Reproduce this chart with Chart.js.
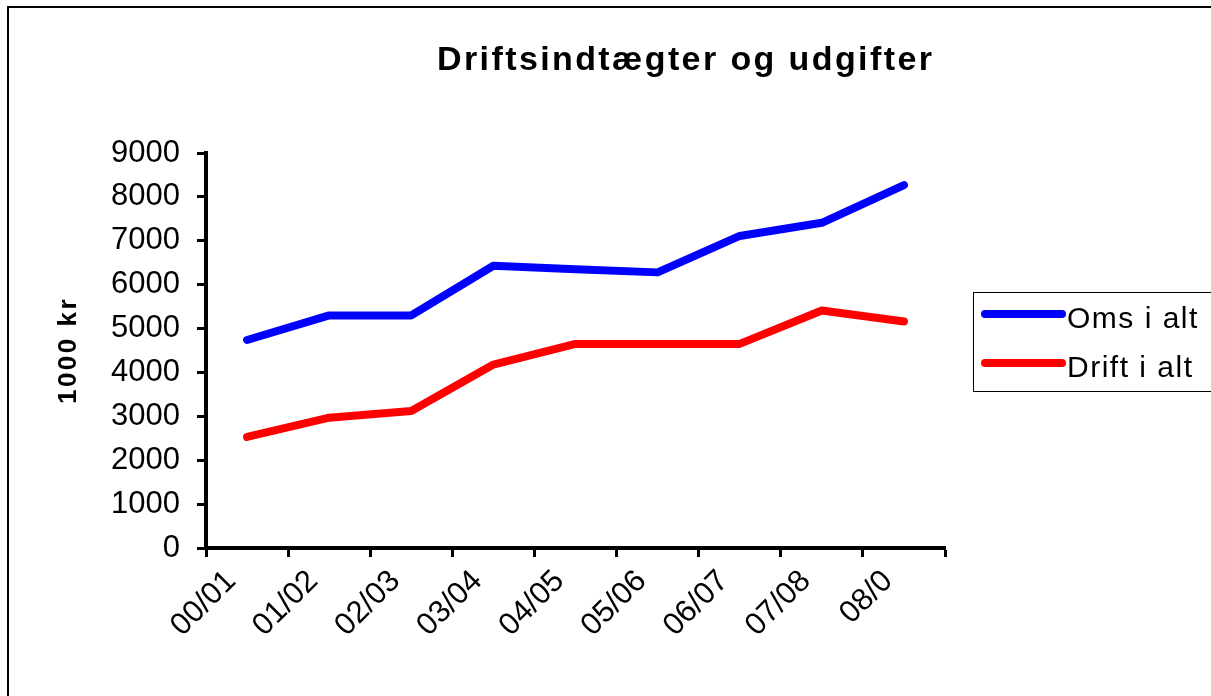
<!DOCTYPE html>
<html>
<head>
<meta charset="utf-8">
<script src="https://cdn.jsdelivr.net/npm/chart.js@4.4.1/dist/chart.umd.min.js"></script>
<style>
  html, body { margin: 0; padding: 0; background: #fff; }
  #wrap { width: 1211px; height: 696px; position: relative; }
</style>
</head>
<body>
<div id="wrap"><canvas id="c" width="1211" height="696"></canvas></div>
<script>
const categories = ["00/01", "01/02", "02/03", "03/04", "04/05", "05/06", "06/07", "07/08", "08/0"];
const omsIAlt   = [4740, 5300, 5300, 6430, 6350, 6280, 7110, 7410, 8270];
const driftIAlt = [2530, 2970, 3120, 4180, 4650, 4650, 4650, 5410, 5160];
const seriesNames = ["Oms i alt", "Drift i alt"];
const seriesColors = ["#0000ff", "#ff0000"];
const yTickStep = 1000;
const yMax = 9000;
const chartTitle = "Driftsindtægter og udgifter";
const yAxisTitle = "1000 kr";

const FONT = "'Liberation Sans', Arial, sans-serif";

const decor = {
  id: 'decor',
  beforeDraw(chart) {
    const ctx = chart.ctx;
    ctx.save();
    ctx.fillStyle = '#fff';
    ctx.fillRect(0, 0, chart.width, chart.height);
    ctx.strokeStyle = '#000';
    ctx.lineWidth = 2;
    ctx.strokeRect(8, 7, 1220, 700);
    ctx.restore();
  },
  afterDraw(chart) {
    const ctx = chart.ctx;
    const area = chart.chartArea;
    ctx.save();
    // title
    ctx.fillStyle = '#000';
    ctx.font = "bold 34px " + FONT;
    ctx.letterSpacing = '2.4px';
    ctx.textAlign = 'left';
    ctx.textBaseline = 'alphabetic';
    ctx.fillText(chartTitle, 437, 70);
    // y axis title
    ctx.save();
    ctx.translate(76, (area.top + area.bottom) / 2);
    ctx.rotate(-Math.PI / 2);
    ctx.font = "bold 26px " + FONT;
    ctx.letterSpacing = '2.5px';
    ctx.textAlign = 'center';
    ctx.textBaseline = 'alphabetic';
    ctx.fillText(yAxisTitle, 0, 0);
    ctx.restore();
    // legend
    ctx.strokeStyle = '#000';
    ctx.lineWidth = 1;
    ctx.strokeRect(973.5, 292.5, 260, 99);
    chart.data.datasets.forEach((ds, i) => {
      const y = 314 + i * 49;
      ctx.strokeStyle = ds.borderColor;
      ctx.lineWidth = 8;
      ctx.lineCap = 'round';
      ctx.beginPath();
      ctx.moveTo(985, y);
      ctx.lineTo(1062, y);
      ctx.stroke();
      ctx.fillStyle = '#000';
      ctx.font = "30px " + FONT;
      ctx.letterSpacing = '1.5px';
      ctx.textAlign = 'left';
      ctx.textBaseline = 'alphabetic';
      ctx.fillText(ds.label, 1067, y + 14);
    });
    ctx.restore();
  }
};

new Chart(document.getElementById('c'), {
  type: 'line',
  data: {
    labels: categories,
    datasets: [
      { label: seriesNames[0], data: omsIAlt, borderColor: seriesColors[0], backgroundColor: seriesColors[0] },
      { label: seriesNames[1], data: driftIAlt, borderColor: seriesColors[1], backgroundColor: seriesColors[1] }
    ]
  },
  options: {
    responsive: false,
    animation: false,
    devicePixelRatio: 1,
    layout: { padding: { left: 100, right: 266, top: 153, bottom: 0 } },
    elements: {
      line: { borderWidth: 8, tension: 0, borderCapStyle: 'round', borderJoinStyle: 'round' },
      point: { radius: 0, hoverRadius: 0 }
    },
    plugins: { legend: { display: false }, title: { display: false }, tooltip: { enabled: false } },
    scales: {
      x: {
        offset: true,
        border: { display: true, color: '#000', width: 4 },
        grid: { display: true, offset: true, drawOnChartArea: false, drawTicks: true, tickLength: 9, tickColor: '#000', tickWidth: 3 },
        ticks: { color: '#000', font: { family: FONT, size: 31 }, maxRotation: 45, minRotation: 45, padding: 6, labelOffset: -16, autoSkip: false },
        afterFit(scale) { scale.height = 148; }
      },
      y: {
        min: 0, max: yMax,
        border: { display: true, color: '#000', width: 4 },
        grid: { display: true, drawOnChartArea: false, drawTicks: true, tickLength: 9, tickColor: '#000', tickWidth: 3 },
        ticks: { stepSize: yTickStep, color: '#000', font: { family: FONT, size: 31 }, padding: 17, callback: (v) => String(v) },
        afterFit(scale) { scale.width = 106; }
      }
    }
  },
  plugins: [decor]
});
</script>
</body>
</html>
